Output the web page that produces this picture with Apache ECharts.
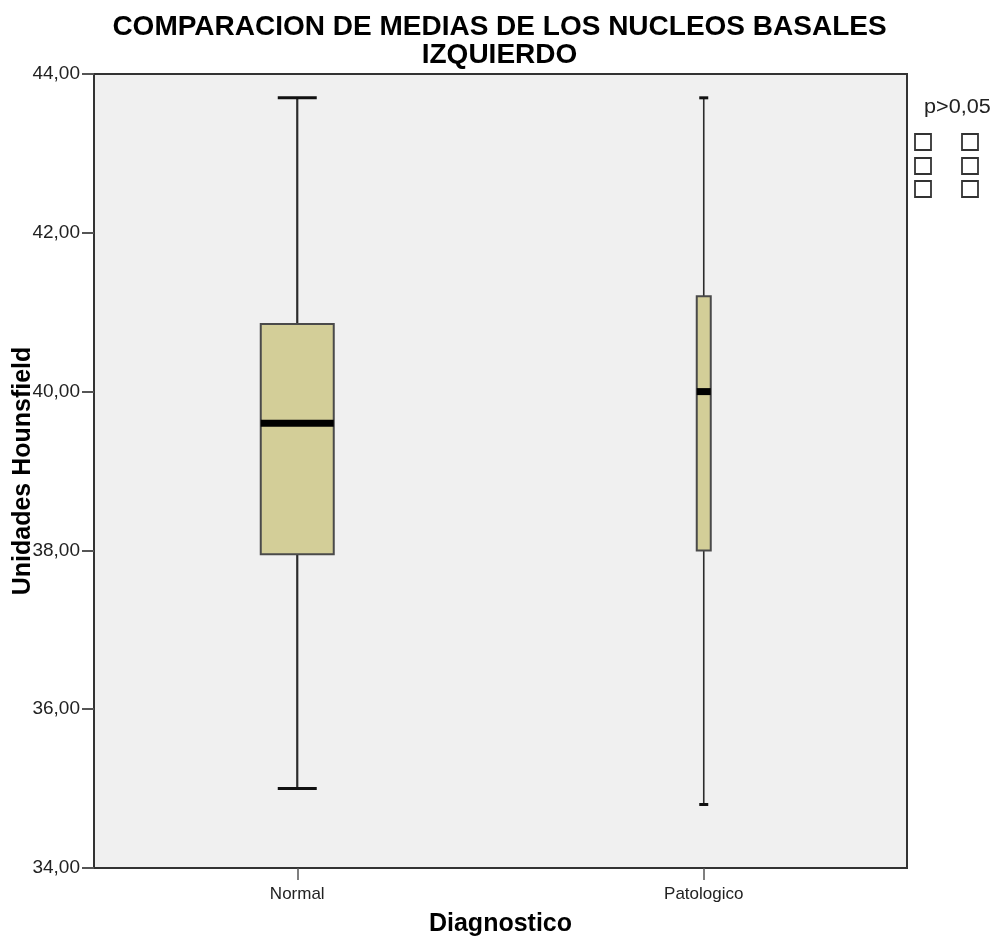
<!DOCTYPE html>
<html>
<head>
<meta charset="utf-8">
<script src="https://cdn.jsdelivr.net/npm/echarts@6/dist/echarts.min.js"></script>
<style>html,body{margin:0;padding:0;background:#fff;}#c{width:999px;height:939px;}</style>
</head>
<body>
<div id="c"></div>
<script>
// ---- data ----
var categories = ['Normal', 'Patologico'];
var lowerWhisker = [35.0, 34.8];
var q1 = [37.95, 38.0];
var median = [39.6, 40.0];
var q3 = [40.85, 41.2];
var upperWhisker = [43.7, 43.7];
var yTicks = [34, 36, 38, 40, 42, 44];

// ---- styles ----
var boxWidths = [73, 14];
var capWidths = [39, 9];
var whiskerWidths = [2.2, 1.6];
var capLineWidths = [3, 3];
var FONT = 'Liberation Sans';

var seriesData = categories.map(function (c, i) {
  return [i, lowerWhisker[i], q1[i], median[i], q3[i], upperWhisker[i]];
});

function fmt(v) { return v.toFixed(2).replace('.', ','); }

function renderItem(params, api) {
  var idx = api.value(0);
  var cx = api.coord([idx, api.value(3)])[0];
  function y(v) { return api.coord([idx, v])[1]; }
  var lo = y(api.value(1)), b1 = y(api.value(2)), md = y(api.value(3)), b3 = y(api.value(4)), hi = y(api.value(5));
  var bw = boxWidths[idx], cw = capWidths[idx];
  var ws = { stroke: '#2b2b2b', lineWidth: whiskerWidths[idx] };
  var cs = { stroke: '#111', lineWidth: capLineWidths[idx] };
  return {
    type: 'group',
    children: [
      { type: 'line', shape: { x1: cx, y1: hi, x2: cx, y2: b3 }, style: ws },
      { type: 'line', shape: { x1: cx, y1: b1, x2: cx, y2: lo }, style: ws },
      { type: 'line', shape: { x1: cx - cw / 2, y1: hi, x2: cx + cw / 2, y2: hi }, style: cs },
      { type: 'line', shape: { x1: cx - cw / 2, y1: lo, x2: cx + cw / 2, y2: lo }, style: cs },
      { type: 'rect', shape: { x: cx - bw / 2, y: b3, width: bw, height: b1 - b3 },
        style: { fill: '#d3ce98', stroke: '#4a4a4a', lineWidth: 2 } },
      { type: 'rect', shape: { x: cx - bw / 2, y: md - 3.5, width: bw, height: 7 },
        style: { fill: '#000' } }
    ]
  };
}

var chart = echarts.init(document.getElementById('c'), null, { renderer: 'canvas' });
var legendSquares = [];
[[915, 134], [962, 134], [915, 158], [962, 158], [915, 181], [962, 181]].forEach(function (p) {
  legendSquares.push({ type: 'rect', shape: { x: p[0], y: p[1], width: 16, height: 16 },
    style: { fill: '#fff', stroke: '#333', lineWidth: 1.8 } });
});

chart.setOption({
  backgroundColor: '#ffffff',
  animation: false,
  title: {
    text: 'COMPARACION DE MEDIAS DE LOS NUCLEOS BASALES\nIZQUIERDO',
    left: 'center', top: 8,
    textStyle: { fontFamily: FONT, fontWeight: 'bold', fontSize: 28, lineHeight: 28, color: '#000' }
  },
  grid: {
    left: 94, right: 92, top: 74, bottom: 71, containLabel: false, outerBoundsMode: 'none',
    show: true, backgroundColor: '#f0f0f0', borderColor: '#333', borderWidth: 2
  },
  xAxis: {
    type: 'category', data: categories, boundaryGap: true,
    name: 'Diagnostico', nameLocation: 'middle', nameGap: 44,
    nameTextStyle: { fontFamily: FONT, fontWeight: 'bold', fontSize: 25, color: '#000' },
    axisLine: { show: true, lineStyle: { color: '#333', width: 2 } },
    axisTick: { show: true, alignWithLabel: true, length: 12, lineStyle: { color: '#555', width: 1.5 } },
    axisLabel: { margin: 18, fontFamily: FONT, fontSize: 17, color: '#222' },
    splitLine: { show: false }
  },
  yAxis: {
    type: 'value', min: 34, max: 44, interval: 2,
    name: 'Unidades Hounsfield', nameLocation: 'middle', nameGap: 58, nameRotate: 90,
    nameMoveOverlap: false,
    nameTextStyle: { fontFamily: FONT, fontWeight: 'bold', fontSize: 25, color: '#000' },
    axisLine: { show: true, lineStyle: { color: '#333', width: 2 } },
    axisTick: { show: true, length: 12, lineStyle: { color: '#555', width: 2 } },
    axisLabel: { margin: 14, fontFamily: FONT, fontSize: 19, color: '#222',
      formatter: function (v) { return yTicks.indexOf(v) >= 0 ? fmt(v) : ''; } },
    splitLine: { show: false }
  },
  graphic: [
    { type: 'text', x: 924, y: 97, scaleX: 1.08,
      style: { text: 'p>0,05', fontFamily: FONT, fontSize: 20, fill: '#222' } }
  ].concat(legendSquares),
  series: [{
    type: 'custom',
    renderItem: renderItem,
    encode: { x: 0, y: [1, 2, 3, 4, 5] },
    data: seriesData,
    clip: false
  }]
});
</script>
</body>
</html>
